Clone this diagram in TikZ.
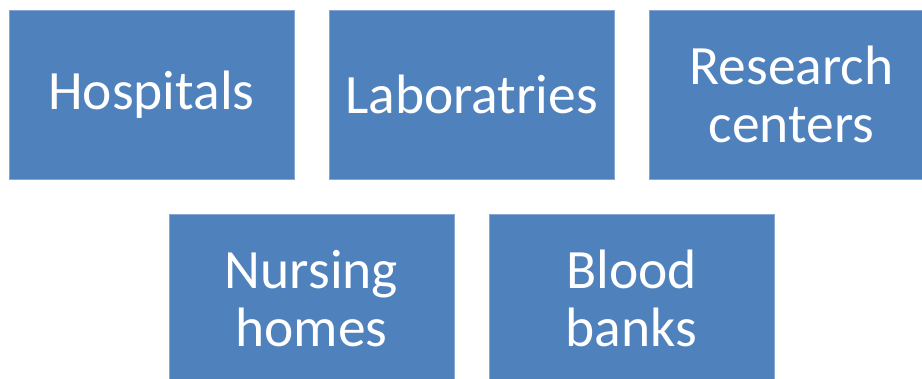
\documentclass[tikz,border=0pt]{standalone}
\usepackage{fontspec}
\setmainfont{Carlito}
\usepackage{xcolor}
\usepackage{tikz}

\definecolor{boxblue}{HTML}{4F81BD}
\definecolor{boxedge}{HTML}{86A6D4}

\begin{document}
\begin{tikzpicture}[x=1pt,y=-1pt,font=\fontsize{55.5}{58}\selectfont,
    facility/.style={fill=boxblue,draw=boxedge,line width=0.8pt,
        minimum width=285pt,minimum height=169pt,inner sep=0pt,
        align=center,text=white}]
    \def\boxw{285}
    \def\boxh{169}
    \def\boxgap{35}

    \useasboundingbox (0,0) rectangle (922,379);

    % upper row
    \foreach [count=\col from 0] \name/\txt in {hosp/Hospitals,lab/Laboratries,res/{Research\\centers}} {
        \node[facility] (\name) at ({9+\col*(\boxw+\boxgap)+0.5*\boxw},{10+0.5*\boxh}) {\txt};
    }
    % lower row
    \foreach [count=\col from 0] \name/\txt in {nurs/{Nursing\\homes},blood/{Blood\\banks}} {
        \node[facility] (\name) at ({169+\col*(\boxw+\boxgap)+0.5*\boxw},{214+0.5*\boxh}) {\txt};
    }
\end{tikzpicture}
\end{document}
